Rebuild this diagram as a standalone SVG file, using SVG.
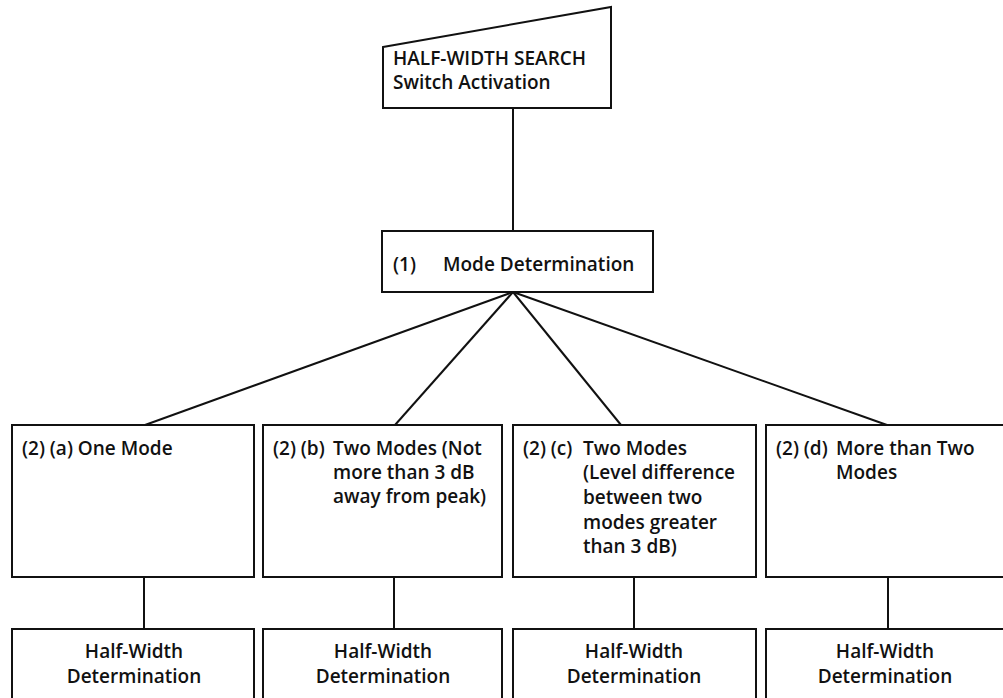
<svg xmlns="http://www.w3.org/2000/svg" width="1003" height="698" viewBox="0 0 1003 698">
  <style>
    .box { fill: #ffffff; stroke: #111111; stroke-width: 2; }
    .wire { fill: none; stroke: #111111; stroke-width: 2; }
    text { font-family: "Open Sans", "Noto Sans", "Liberation Sans", sans-serif; font-size: 19px; font-weight: 600; fill: #111111; }
    .mid { text-anchor: middle; }
  </style>
  <rect x="0" y="0" width="1003" height="698" fill="#ffffff"/>

  <!-- connectors -->
  <g id="connectors">
    <line class="wire" x1="513" y1="108" x2="513" y2="231"/>
    <line class="wire" x1="513" y1="292" x2="145" y2="425"/>
    <line class="wire" x1="513" y1="292" x2="395" y2="425"/>
    <line class="wire" x1="513" y1="292" x2="621" y2="425"/>
    <line class="wire" x1="513" y1="292" x2="887" y2="425"/>
    <line class="wire" x1="144" y1="577" x2="144" y2="629"/>
    <line class="wire" x1="394" y1="577" x2="394" y2="629"/>
    <line class="wire" x1="634" y1="577" x2="634" y2="629"/>
    <line class="wire" x1="888" y1="577" x2="888" y2="629"/>
  </g>

  <!-- start: manual input -->
  <g id="start">
    <polygon class="box" points="383,47 611,7 611,108 383,108"/>
    <text x="393" y="65">HALF-WIDTH SEARCH</text>
    <text x="393" y="89">Switch Activation</text>
  </g>

  <g id="mode-determination">
    <rect class="box" x="382" y="231" width="271" height="61"/>
    <text x="393" y="271">(1)</text>
    <text x="443" y="271">Mode Determination</text>
  </g>

  <g id="case-a">
    <rect class="box" x="12" y="425" width="242" height="152"/>
    <text x="22" y="455">(2) (a) One Mode</text>
  </g>

  <g id="case-b">
    <rect class="box" x="263" y="425" width="239" height="152"/>
    <text x="273" y="455">(2) (b)</text>
    <text x="333" y="455">Two Modes (Not</text>
    <text x="333" y="479">more than 3 dB</text>
    <text x="333" y="503">away from peak)</text>
  </g>

  <g id="case-c">
    <rect class="box" x="513" y="425" width="243" height="152"/>
    <text x="523" y="455">(2) (c)</text>
    <text x="583" y="455">Two Modes</text>
    <text x="583" y="479">(Level difference</text>
    <text x="583" y="504">between two</text>
    <text x="583" y="529">modes greater</text>
    <text x="583" y="553">than 3 dB)</text>
  </g>

  <g id="case-d">
    <rect class="box" x="766" y="425" width="250" height="152"/>
    <text x="776" y="455">(2) (d)</text>
    <text x="836" y="455">More than Two</text>
    <text x="836" y="479">Modes</text>
  </g>

  <g id="result-a">
    <rect class="box" x="12" y="629" width="242" height="80"/>
    <text class="mid" x="134" y="658">Half-Width</text>
    <text class="mid" x="134" y="683">Determination</text>
  </g>

  <g id="result-b">
    <rect class="box" x="263" y="629" width="239" height="80"/>
    <text class="mid" x="383" y="658">Half-Width</text>
    <text class="mid" x="383" y="683">Determination</text>
  </g>

  <g id="result-c">
    <rect class="box" x="513" y="629" width="243" height="80"/>
    <text class="mid" x="634" y="658">Half-Width</text>
    <text class="mid" x="634" y="683">Determination</text>
  </g>

  <g id="result-d">
    <rect class="box" x="766" y="629" width="250" height="80"/>
    <text class="mid" x="885" y="658">Half-Width</text>
    <text class="mid" x="885" y="683">Determination</text>
  </g>
</svg>
